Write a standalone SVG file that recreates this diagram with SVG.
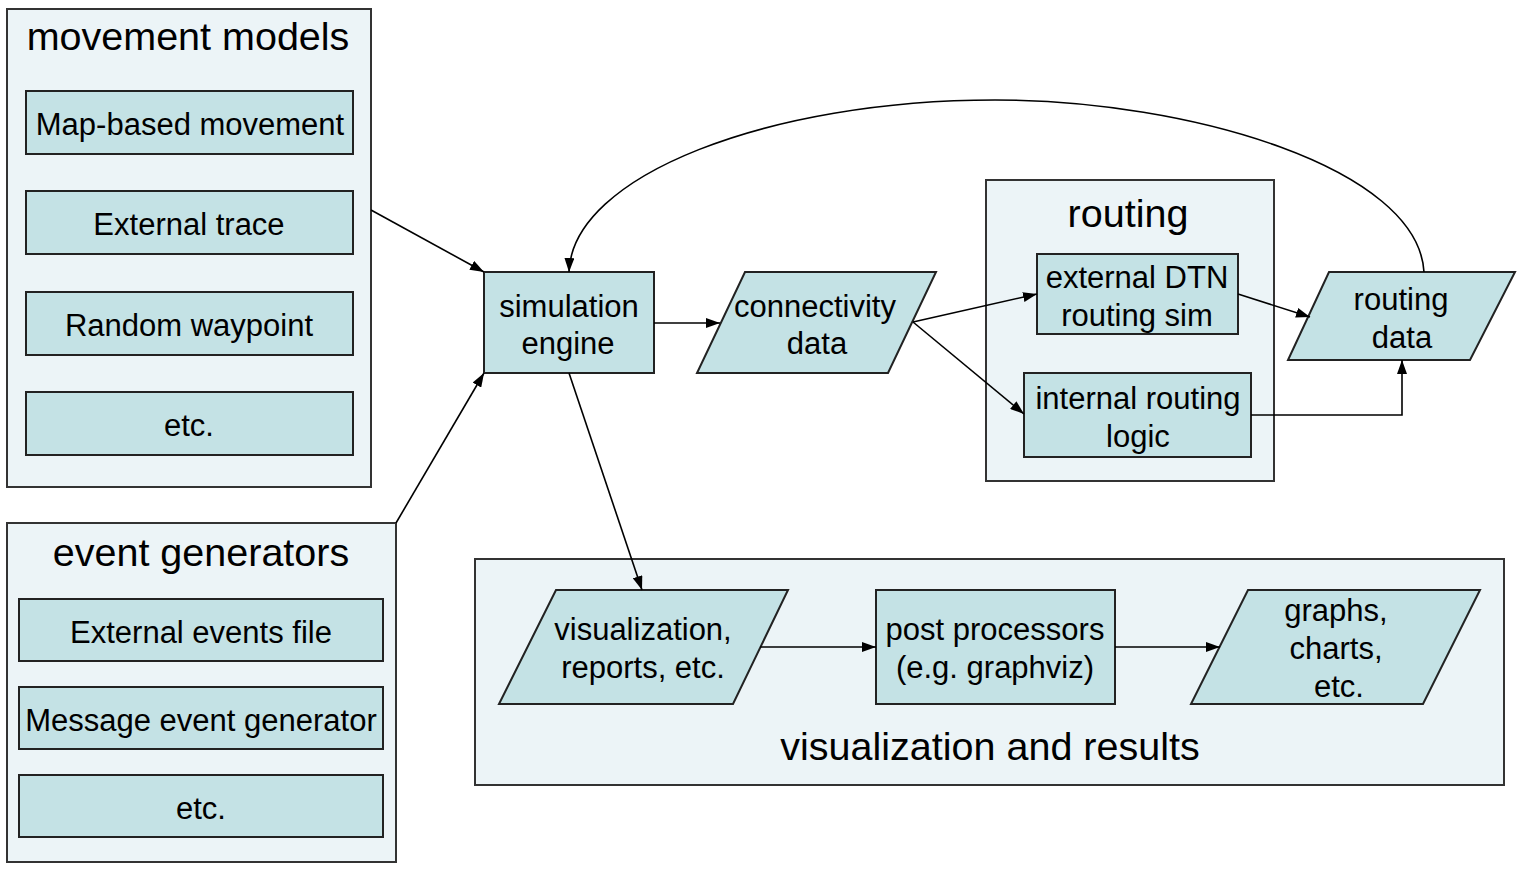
<svg xmlns="http://www.w3.org/2000/svg" width="1521" height="870" viewBox="0 0 1521 870">
<style>
.cont{fill:#ECF4F7;stroke:#333;stroke-width:2}
.node{fill:#C4E2E5;stroke:#222;stroke-width:2}
text{font-family:"Liberation Sans",Arial,sans-serif;fill:#000;text-anchor:middle}
.t{font-size:39.5px}
.n{font-size:31px}
.e{fill:none;stroke:#000;stroke-width:1.6}
</style>
<defs>
<marker id="arr" viewBox="0 0 14 10" refX="14" refY="5" markerWidth="14" markerHeight="10" orient="auto" markerUnits="userSpaceOnUse"><path d="M0,0 L14,5 L0,10 z" fill="#000"/></marker>
</defs>
<rect width="1521" height="870" fill="#fff"/>
<g id="movement-models">
<rect class="cont" x="7" y="9" width="364" height="478"/>
<text class="t" x="188" y="50">movement models</text>
</g>
<g id="map-based"><rect class="node" x="26" y="91" width="327" height="63"/><text class="n" x="190" y="135">Map-based movement</text></g>
<g id="external-trace"><rect class="node" x="26" y="191" width="327" height="63"/><text class="n" x="189" y="235">External trace</text></g>
<g id="random-waypoint"><rect class="node" x="26" y="292" width="327" height="63"/><text class="n" x="189" y="336">Random waypoint</text></g>
<g id="mm-etc"><rect class="node" x="26" y="392" width="327" height="63"/><text class="n" x="189" y="436">etc.</text></g>
<g id="event-generators">
<rect class="cont" x="7" y="523" width="389" height="339"/>
<text class="t" x="201" y="566">event generators</text>
</g>
<g id="external-events"><rect class="node" x="19" y="599" width="364" height="62"/><text class="n" x="201" y="643">External events file</text></g>
<g id="message-event"><rect class="node" x="19" y="687" width="364" height="62"/><text class="n" x="201" y="731">Message event generator</text></g>
<g id="eg-etc"><rect class="node" x="19" y="775" width="364" height="62"/><text class="n" x="201" y="819">etc.</text></g>
<g id="simulation-engine"><rect class="node" x="484" y="272" width="170" height="101"/><text class="n" x="569" y="317">simulation</text><text class="n" x="568" y="354">engine</text></g>
<g id="connectivity-data"><polygon class="node" points="745,272 936,272 888,373 697,373"/><text class="n" x="815" y="317">connectivity</text><text class="n" x="817" y="354">data</text></g>
<g id="routing">
<rect class="cont" x="986" y="180" width="288" height="301"/>
<text class="t" x="1128" y="227">routing</text>
</g>
<g id="external-dtn"><rect class="node" x="1037" y="254" width="201" height="80"/><text class="n" x="1137" y="288">external DTN</text><text class="n" x="1137" y="326">routing sim</text></g>
<g id="internal-routing"><rect class="node" x="1024" y="373" width="227" height="84"/><text class="n" x="1138" y="409">internal routing</text><text class="n" x="1138" y="447">logic</text></g>
<g id="routing-data"><polygon class="node" points="1329,272 1515,272 1470,360 1288,360"/><text class="n" x="1401" y="310">routing</text><text class="n" x="1402" y="348">data</text></g>
<g id="visualization-results">
<rect class="cont" x="475" y="559" width="1029" height="226"/>
<text class="t" x="990" y="760">visualization and results</text>
</g>
<g id="visualization"><polygon class="node" points="556,590 788,590 733,704 499,704"/><text class="n" x="643" y="640">visualization,</text><text class="n" x="643" y="678">reports, etc.</text></g>
<g id="post-processors"><rect class="node" x="876" y="590" width="239" height="114"/><text class="n" x="995" y="640">post processors</text><text class="n" x="995" y="678">(e.g. graphviz)</text></g>
<g id="graphs"><polygon class="node" points="1248,590 1480,590 1423,704 1191,704"/><text class="n" x="1336" y="621">graphs,</text><text class="n" x="1336" y="659">charts,</text><text class="n" x="1339" y="697">etc.</text></g>
<g id="connectors">
<path class="e" marker-end="url(#arr)" d="M371,210 L484,272"/>
<path class="e" marker-end="url(#arr)" d="M396,523 L484,373"/>
<path class="e" marker-end="url(#arr)" d="M654,323 L720,323"/>
<path class="e" marker-end="url(#arr)" d="M913,322 L1037,294"/>
<path class="e" marker-end="url(#arr)" d="M913,322 L1024,414"/>
<path class="e" marker-end="url(#arr)" d="M1238,294 L1310,317"/>
<path class="e" marker-end="url(#arr)" d="M1251,415 L1402,415 L1402,360"/>
<path class="e" marker-end="url(#arr)" d="M569,373 L642,590"/>
<path class="e" marker-end="url(#arr)" d="M760,647 L876,647"/>
<path class="e" marker-end="url(#arr)" d="M1115,647 L1220,647"/>
<path class="e" marker-end="url(#arr)" d="M1424,272 C1418,168 1190,100 995,100 C770,100 572,175 569,272"/>
</g>
</svg>
